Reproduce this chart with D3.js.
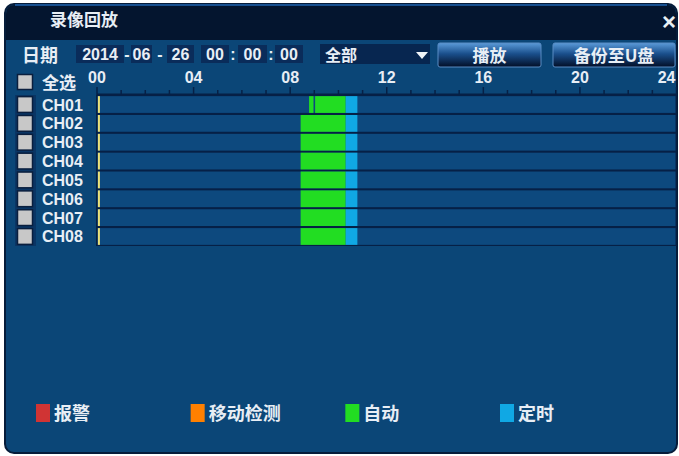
<!DOCTYPE html>
<html>
<head>
<meta charset="utf-8">
<script src="https://cdn.jsdelivr.net/npm/d3@7"></script>
<style>
  html, body { margin: 0; padding: 0; background: #fff; }
  svg { display: block; }
  text { font-family: "Liberation Sans", Arial, sans-serif; fill: #e8eef5; font-weight: bold; }
  .cjk { font-family: "Noto Sans CJK SC", sans-serif; font-weight: bold; }
</style>
</head>
<body>
<svg></svg>
<script>
// ---- data ----
var channels = ["CH01", "CH02", "CH03", "CH04", "CH05", "CH06", "CH07", "CH08"];
var hourLabels = ["00", "04", "08", "12", "16", "20", "24"];
var dateParts = ["2014", "06", "26"];
var timeParts = ["00", "00", "00"];
var recTypes = ["报警", "移动检测", "自动", "定时"];
var recColors = ["#d03434", "#ff8000", "#22dd22", "#10a8e4"];
// recordings: [channel, start, end, type]
var records = [
  ["CH01", "08:47", "08:58", "自动"],
  ["CH01", "09:02", "10:18", "自动"],
  ["CH01", "10:18", "10:47", "定时"],
  ["CH02", "08:26", "10:18", "自动"], ["CH02", "10:18", "10:47", "定时"],
  ["CH03", "08:26", "10:18", "自动"], ["CH03", "10:18", "10:47", "定时"],
  ["CH04", "08:26", "10:18", "自动"], ["CH04", "10:18", "10:47", "定时"],
  ["CH05", "08:26", "10:18", "自动"], ["CH05", "10:18", "10:47", "定时"],
  ["CH06", "08:26", "10:18", "自动"], ["CH06", "10:18", "10:47", "定时"],
  ["CH07", "08:26", "10:18", "自动"], ["CH07", "10:18", "10:47", "定时"],
  ["CH08", "08:26", "10:18", "自动"], ["CH08", "10:18", "10:47", "定时"]
];
var cursorHour = 0.1;

function hours(s) {
  var p = s.split(":");
  return +p[0] + p[1] / 60;
}

var W = 679, H = 456;
var svg = d3.select("svg").attr("width", W).attr("height", H);

var defs = svg.append("defs");
var grad = defs.append("linearGradient").attr("id", "btn").attr("x1", 0).attr("y1", 0).attr("x2", 0).attr("y2", 1);
grad.append("stop").attr("offset", "0%").attr("stop-color", "#5a9ad8");
grad.append("stop").attr("offset", "45%").attr("stop-color", "#1a4f8c");
grad.append("stop").attr("offset", "100%").attr("stop-color", "#020e26");

// panel
svg.append("rect").attr("x", 5).attr("y", 4).attr("width", 672).attr("height", 449)
    .attr("rx", 9).attr("fill", "#0b4677").attr("stroke", "#061c3a").attr("stroke-width", 2);
svg.append("path")
    .attr("d", "M6,40 V14 Q6,5 15,5 H667 Q676,5 676,14 V40 Z")
    .attr("fill", "#04152f");
svg.append("line").attr("x1", 15).attr("x2", 667).attr("y1", 5).attr("y2", 5)
    .attr("stroke", "#1f63b0").attr("stroke-width", 1.5);

svg.append("text").attr("class", "cjk").attr("x", 50).attr("y", 26)
    .style("font-size", "17px").text("录像回放");
svg.append("text").attr("x", 669).attr("y", 30).attr("text-anchor", "middle")
    .style("font-size", "24px").text("×");

// controls row
svg.append("text").attr("class", "cjk").attr("x", 22).attr("y", 62)
    .style("font-size", "18px").text("日期");

var fieldBoxes = [
  { x: 76, w: 48, t: dateParts[0] }, { x: 131, w: 21, t: dateParts[1] }, { x: 167, w: 27, t: dateParts[2] },
  { x: 201, w: 28, t: timeParts[0] }, { x: 238, w: 29, t: timeParts[1] }, { x: 275, w: 28, t: timeParts[2] }
];
var seps = [{ x: 127, t: "-" }, { x: 160, t: "-" }, { x: 233, t: ":" }, { x: 271, t: ":" }];

svg.selectAll(".fb").data(fieldBoxes).enter().append("rect")
    .attr("x", function(d) { return d.x; }).attr("y", 45)
    .attr("width", function(d) { return d.w; }).attr("height", 18)
    .attr("fill", "#0a2c5a");
svg.selectAll(".ft").data(fieldBoxes).enter().append("text")
    .attr("x", function(d) { return d.x + d.w / 2; }).attr("y", 60)
    .attr("text-anchor", "middle").style("font-size", "16px")
    .text(function(d) { return d.t; });
svg.selectAll(".fs").data(seps).enter().append("text")
    .attr("x", function(d) { return d.x; }).attr("y", 60)
    .attr("text-anchor", "middle").style("font-size", "16px")
    .text(function(d) { return d.t; });

// combo
svg.append("rect").attr("x", 320).attr("y", 44).attr("width", 110).attr("height", 20).attr("fill", "#072650");
svg.append("text").attr("class", "cjk").attr("x", 325).attr("y", 61).style("font-size", "16px").text("全部");
svg.append("path").attr("d", "M416,52 L428,52 L422,59 Z").attr("fill", "#f0f4f8");

// buttons
var buttons = [{ x: 438, w: 103, t: "播放" }, { x: 553, w: 122, t: "备份至U盘" }];
svg.selectAll(".btn").data(buttons).enter().append("rect")
    .attr("x", function(d) { return d.x; }).attr("y", 43)
    .attr("width", function(d) { return d.w; }).attr("height", 24)
    .attr("rx", 2).attr("fill", "url(#btn)").attr("stroke", "#5b8cc4").attr("stroke-width", 1);
svg.selectAll(".bt").data(buttons).enter().append("text").attr("class", "cjk")
    .attr("x", function(d) { return d.x + d.w / 2; }).attr("y", 62)
    .attr("text-anchor", "middle").style("font-size", "17px")
    .text(function(d) { return d.t; });

// timeline
var x = d3.scaleLinear().domain([0, 24]).range([97, 676.5]);
var y = d3.scaleBand().domain(channels).range([95, 246]).paddingInner(0.11).paddingOuter(0.06);

// select all
svg.append("rect").attr("x", 17.5).attr("y", 74.5).attr("width", 15).attr("height", 15)
    .attr("fill", "#c8c8c8").attr("stroke", "#0a1f3e").attr("stroke-width", 1.5);
svg.append("text").attr("class", "cjk").attr("x", 42).attr("y", 89).style("font-size", "17px").text("全选");

// tick marks
var hoursAll = d3.range(0, 25);
svg.append("line").attr("x1", x(0)).attr("x2", x(24)).attr("y1", 94.5).attr("y2", 94.5)
    .attr("stroke", "#062046").attr("stroke-width", 2);
svg.selectAll(".tick").data(hoursAll).enter().append("line")
    .attr("x1", function(d) { return x(d); }).attr("x2", function(d) { return x(d); })
    .attr("y1", function(d) { return d % 4 === 0 ? 87 : 90; }).attr("y2", 95)
    .attr("stroke", "#062046").attr("stroke-width", 1.5);
svg.selectAll(".hl").data(hourLabels).enter().append("text")
    .attr("x", function(d) { return +d === 24 ? x(24) - 1 : x(+d); }).attr("y", 83)
    .attr("text-anchor", function(d) { return +d === 24 ? "end" : "middle"; })
    .style("font-size", "16px").text(function(d) { return d; });

// rows
svg.append("rect").attr("x", x(0) - 1).attr("y", 95).attr("width", x(24) - x(0) + 1).attr("height", 151)
    .attr("fill", "#062046");
svg.selectAll(".row").data(channels).enter().append("rect")
    .attr("x", x(0) + 0.5).attr("y", function(d) { return y(d); })
    .attr("width", x(24) - x(0) - 1.5).attr("height", y.bandwidth())
    .attr("fill", "#0d497e");

svg.selectAll(".rec").data(records).enter().append("rect")
    .attr("x", function(d) { return x(hours(d[1])); })
    .attr("y", function(d) { return y(d[0]); })
    .attr("width", function(d) { return x(hours(d[2])) - x(hours(d[1])); })
    .attr("height", y.bandwidth())
    .attr("fill", function(d) { return recColors[recTypes.indexOf(d[3])]; });

svg.selectAll(".cur").data(channels).enter().append("rect")
    .attr("x", x(cursorHour) - 1.5).attr("y", function(d) { return y(d); })
    .attr("width", 2).attr("height", y.bandwidth())
    .attr("fill", "#ebe27a");

// channel checkboxes + labels
svg.append("rect").attr("x", 15).attr("y", 95).attr("width", 21).attr("height", 151).attr("fill", "#0a3564");
svg.selectAll(".cb").data(channels).enter().append("rect")
    .attr("x", 17.5).attr("y", function(d) { return y(d) + 0.5; })
    .attr("width", 15).attr("height", y.bandwidth() - 1)
    .attr("fill", "#c8c8c8").attr("stroke", "#0a1f3e").attr("stroke-width", 1.5);
svg.selectAll(".cl").data(channels).enter().append("text")
    .attr("x", 42).attr("y", function(d) { return y(d) + y.bandwidth() / 2 + 6; })
    .style("font-size", "16px").text(function(d) { return d; });

// legend
var lx = d3.scaleLinear().domain([0, 3]).range([36, 500]);
var leg = svg.selectAll(".leg").data(recTypes).enter().append("g")
    .attr("transform", function(d, i) { return "translate(" + lx(i) + ",404)"; });
leg.append("rect").attr("width", 14).attr("height", 18)
    .attr("fill", function(d, i) { return recColors[i]; });
leg.append("text").attr("class", "cjk").attr("x", 18).attr("y", 16)
    .style("font-size", "18px").text(function(d) { return d; });
</script>
</body>
</html>
